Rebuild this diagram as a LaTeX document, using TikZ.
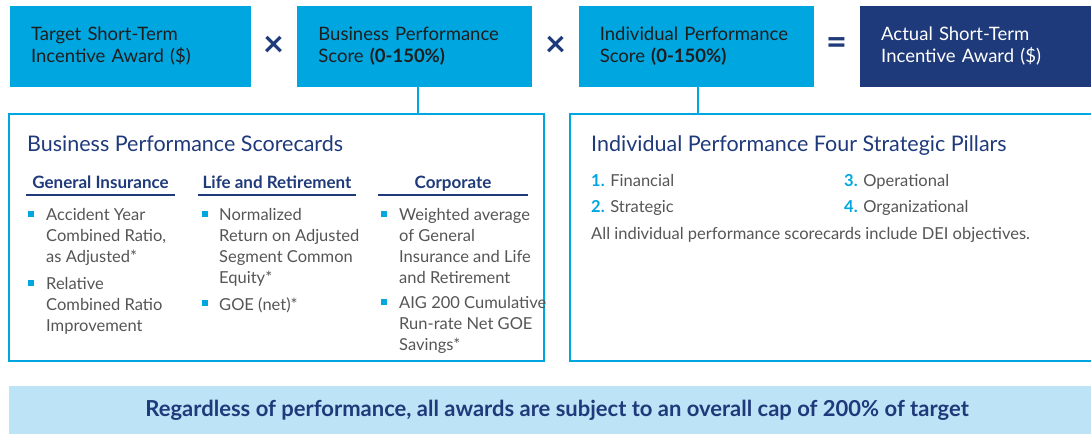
\documentclass[tikz,border=0pt]{standalone}
\usepackage{fontspec}
\setmainfont{Lato}
\usepackage{xcolor}
\usetikzlibrary{positioning, calc}
\definecolor{aigblue}{RGB}{0,166,224}
\definecolor{aignavy}{RGB}{31,58,122}
\definecolor{aigpale}{RGB}{189,227,246}
\definecolor{boxtext}{RGB}{30,30,30}
\definecolor{bodygray}{RGB}{85,85,85}
\tikzset{
    factor/.style={rectangle, fill=aigblue, text=boxtext, font=\fontsize{18.5}{22}\selectfont, align=left, inner xsep=0pt, inner ysep=0pt, minimum height=81pt},
    result/.style={factor, fill=aignavy, text=white},
    operator/.style={text=aignavy, font=\fontsize{36}{36}\selectfont\bfseries, inner sep=0pt},
    panel/.style={rectangle, draw=aigblue, line width=2pt, inner sep=0pt, minimum height=247pt},
    link/.style={draw=aigblue, line width=2pt},
    paneltitle/.style={text=aignavy, font=\fontsize{21.5}{26}\selectfont, anchor=base west, inner sep=0pt},
    colhead/.style={text=aignavy, font=\fontsize{17}{20}\selectfont\bfseries, anchor=base, inner sep=0pt},
    headrule/.style={draw=aignavy, line width=1.2pt},
    itemtext/.style={text=bodygray, font=\fontsize{16.5}{21}\selectfont, align=left, anchor=north west, inner sep=0pt},
    bulletsq/.style={rectangle, fill=aigblue, minimum size=6pt, inner sep=0pt},
    pillar/.style={text=bodygray, font=\fontsize{16.5}{21}\selectfont, anchor=base west, inner sep=0pt},
    capband/.style={rectangle, fill=aigpale, text=aignavy, font=\fontsize{22}{26}\selectfont\bfseries, minimum width=1096pt, minimum height=48pt}
}
\newcommand{\pnum}[1]{\textbf{\color{aigblue}#1}}

\begin{document}
\begin{tikzpicture}[x=1pt, y=-1pt]
    \useasboundingbox (0,0) rectangle (1091,434);

    % top formula
    \node [factor, minimum width=241pt, text width=199pt] (target) at (130.5,46.5) {Target Short-Term\\Incentive Award (\$)};
    \node [factor, minimum width=235pt, text width=193pt, right=46pt of target] (bizscore) {\mbox{Business Performance}\\Score \textbf{(0-150\%)}};
    \node [factor, minimum width=235pt, text width=193pt, right=46pt of bizscore] (indscore) {\mbox{Individual Performance}\\Score \textbf{(0-150\%)}};
    \node [result, minimum width=236pt, text width=194pt, right=46pt of indscore] (actual) {Actual Short-Term\\Incentive Award (\$)};

    \node [operator] (times1) at ($(target.east)!0.5!(bizscore.west)$) {×};
    \node [operator] (times2) at ($(bizscore.east)!0.5!(indscore.west)$) {×};
    \node [operator] (equals) at ($(indscore.east)!0.5!(actual.west)$) {=};

    % scorecard panels
    \node [panel, minimum width=535pt] (bizpanel) at (276.5,237.5) {};
    \node [panel, minimum width=525pt] (indpanel) at (832.5,237.5) {};

    \draw [link] ([xshift=3.5pt]bizscore.south) -- ([xshift=3.5pt]bizscore.south |- bizpanel.north);
    \draw [link] ([xshift=1.5pt]indscore.south) -- ([xshift=1.5pt]indscore.south |- indpanel.north);

    % business performance
    \node [paneltitle] (biztitle) at (27,151) {Business Performance Scorecards};

    \node [colhead] (gihead) at (100.5,188) {General Insurance};
    \node [colhead] (lrhead) at (277,188) {Life and Retirement};
    \node [colhead] (corphead) at (453,188) {Corporate};
    \draw [headrule] (26,195) -- (175,195);
    \draw [headrule] (198,195) -- (356,195);
    \draw [headrule] (378,195) -- (528,195);

    \node [bulletsq] (gisq1) at (31,214) {};
    \node [itemtext] (gi1) at (46,208) {Accident Year\\Combined Ratio,\\as Adjusted*};
    \node [bulletsq] (gisq2) at (31,283) {};
    \node [itemtext] (gi2) at (46,277) {Relative\\Combined Ratio\\Improvement};

    \node [bulletsq] (lrsq1) at (205,214) {};
    \node [itemtext] (lr1) at (219,208) {Normalized\\Return on Adjusted\\Segment Common\\Equity*};
    \node [bulletsq] (lrsq2) at (205,303) {};
    \node [itemtext] (lr2) at (219,297) {GOE (net)*};

    \node [bulletsq] (corpsq1) at (384,214) {};
    \node [itemtext] (corp1) at (399,208) {Weighted average\\of General\\Insurance and Life\\and Retirement};
    \node [bulletsq] (corpsq2) at (384,302) {};
    \node [itemtext] (corp2) at (399,296) {AIG 200 Cumulative\\Run-rate Net GOE\\Savings*};

    % individual performance
    \node [paneltitle] (indtitle) at (591,151) {Individual Performance Four Strategic Pillars};
    \node [pillar] (financial) at (591,186) {\pnum{1.} Financial};
    \node [pillar] (operational) at (844,186) {\pnum{3.} Operational};
    \node [pillar] (strategic) at (591,212) {\pnum{2.} Strategic};
    \node [pillar] (organizational) at (844,212) {\pnum{4.} Organizational};
    \node [pillar] (deinote) at (591,239) {All individual performance scorecards include DEI objectives.};

    % cap
    \node [capband] (capnote) at (557,410) {Regardless of performance, all awards are subject to an overall cap of 200\% of target};
\end{tikzpicture}
\end{document}
